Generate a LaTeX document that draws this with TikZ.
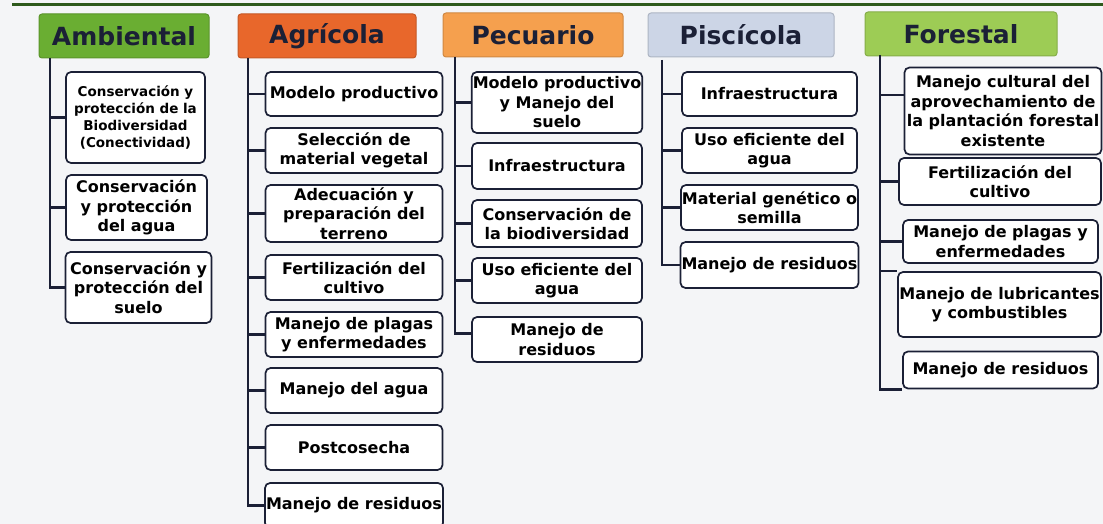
\documentclass[tikz,border=0pt]{standalone}
\usepackage{fontspec}
\setmainfont{DejaVu Sans}
\definecolor{ink}{HTML}{1B2036}
\definecolor{bgcol}{HTML}{F4F5F7}
\definecolor{topline}{HTML}{2E5A1C}
\definecolor{ambcol}{HTML}{6AAE32}
\definecolor{agrcol}{HTML}{E8672B}
\definecolor{peccol}{HTML}{F5A04E}
\definecolor{piscol}{HTML}{CCD5E6}
\definecolor{forcol}{HTML}{9DCC55}

\begin{document}
\begin{tikzpicture}[x=1pt,y=-1pt,
    hdr/.style={rounded corners=3pt, draw=#1!85!black, fill=#1, line width=1pt,
        minimum height=44pt, inner sep=0pt, text=ink,
        font=\fontsize{25}{28}\selectfont\bfseries},
    item/.style={draw=ink, line width=1.7pt, rounded corners=5pt, fill=white,
        align=center, inner sep=1pt, text=black,
        font=\fontsize{16}{19.5}\selectfont\bfseries},
    trunk/.style={draw=ink, line width=2.4pt}]
    \useasboundingbox (0,0) rectangle (1103,524);
    \fill[bgcol] (0,0) rectangle (1103,524);
    \draw[topline, line width=3pt] (12,5) -- (1103,5);

    \node[hdr=ambcol, minimum width=170pt] (amb) at (124,36) {Ambiental};
    \node[hdr=agrcol, minimum width=178pt] (agr) at (327,36) {Agrícola};
    \node[hdr=peccol, minimum width=180pt] (pec) at (533,35) {Pecuario};
    \node[hdr=piscol, minimum width=186pt] (pis) at (741,35) {Piscícola};
    \node[hdr=forcol, minimum width=192pt] (for) at (961,34) {Forestal};

    \coordinate (tA) at (50,58);
    \coordinate (tG) at (248,58);
    \coordinate (tP) at (455,57);
    \coordinate (tS) at (662,60);
    \coordinate (tF) at (880,55);

    \node[item, minimum width=139pt, minimum height=91pt,
        font=\fontsize{13.5}{17}\selectfont\bfseries] (a1) at (135.5,117.5)
        {Conservación y\\protección de la\\Biodiversidad\\(Conectividad)};
    \node[item, minimum width=141pt, minimum height=65pt] (a2) at (136.5,207.5)
        {Conservación\\y protección\\del agua};
    \node[item, minimum width=146pt, minimum height=71pt] (a3) at (138.5,287.5)
        {Conservación y\\protección del\\suelo};

    \node[item, minimum width=177pt, minimum height=44pt] (g1) at (354,94) {Modelo productivo};
    \node[item, minimum width=177pt, minimum height=45pt] (g2) at (354,150.5) {Selección de\\material vegetal};
    \node[item, minimum width=177pt, minimum height=57pt] (g3) at (354,213.5) {Adecuación y\\preparación del\\terreno};
    \node[item, minimum width=177pt, minimum height=45pt] (g4) at (354,277.5) {Fertilización del\\cultivo};
    \node[item, minimum width=177pt, minimum height=45pt] (g5) at (354,334.5) {Manejo de plagas\\y enfermedades};
    \node[item, minimum width=177pt, minimum height=45pt] (g6) at (354,390.5) {Manejo del agua};
    \node[item, minimum width=177pt, minimum height=45pt] (g7) at (354,447.5) {Postcosecha};
    \node[item, minimum width=177pt, minimum height=45pt] (g8) at (354,505.5) {Manejo de residuos};

    \node[item, minimum width=170pt, minimum height=61pt] (p1) at (557,102.5) {Modelo productivo\\y Manejo del\\suelo};
    \node[item, minimum width=170pt, minimum height=46pt] (p2) at (557,166) {Infraestructura};
    \node[item, minimum width=170pt, minimum height=47pt] (p3) at (557,223.5) {Conservación de\\la biodiversidad};
    \node[item, minimum width=170pt, minimum height=45pt] (p4) at (557,280.5) {Uso eficiente del\\agua};
    \node[item, minimum width=170pt, minimum height=45pt] (p5) at (557,339.5) {Manejo de\\residuos};

    \node[item, minimum width=175pt, minimum height=44pt] (s1) at (769.5,94) {Infraestructura};
    \node[item, minimum width=175pt, minimum height=45pt] (s2) at (769.5,150.5) {Uso eficiente del\\agua};
    \node[item, minimum width=175pt, minimum height=45pt] (s3) at (769.5,207.5) {Material genético o\\semilla};
    \node[item, minimum width=175pt, minimum height=46pt] (s4) at (769.5,265) {Manejo de residuos};

    \node[item, minimum width=197pt, minimum height=87pt] (f1) at (1003,111) {Manejo cultural del\\aprovechamiento de\\la plantación forestal\\existente};
    \node[item, minimum width=202pt, minimum height=47pt] (f2) at (1000,181.5) {Fertilización del\\cultivo};
    \node[item, minimum width=195pt, minimum height=43pt] (f3) at (1000.5,241.5) {Manejo de plagas y\\enfermedades};
    \node[item, minimum width=203pt, minimum height=65pt] (f4) at (999.5,304.5) {Manejo de lubricantes\\y combustibles};
    \node[item, minimum width=195pt, minimum height=37pt] (f5) at (1000.5,370) {Manejo de residuos};

    \draw[trunk] (tA) |- (a3.west);
    \foreach \n in {a1,a2}
        \draw[trunk] (tA |- \n.west) -- (\n.west);
    \draw[trunk] (tG) |- (g8.west);
    \foreach \n in {g1,g2,g3,g4,g5,g6,g7}
        \draw[trunk] (tG |- \n.west) -- (\n.west);
    \draw[trunk] (tP) |- ([yshift=6pt]p5.west);
    \foreach \n in {p1,p2,p3,p4}
        \draw[trunk] (tP |- \n.west) -- (\n.west);
    \draw[trunk] (tS) |- (s4.west);
    \foreach \n in {s1,s2,s3}
        \draw[trunk] (tS |- \n.west) -- (\n.west);
    \draw[trunk] (tF) |- (f5.south west);
    \draw[trunk] (tF |- f1.west) ++(0,-16) -- ([yshift=16pt]f1.west);
    \draw[trunk] (tF |- f4.north west) -- (f4.north west);
    \foreach \n in {f2,f3}
        \draw[trunk] (tF |- \n.west) -- (\n.west);
\end{tikzpicture}
\end{document}
